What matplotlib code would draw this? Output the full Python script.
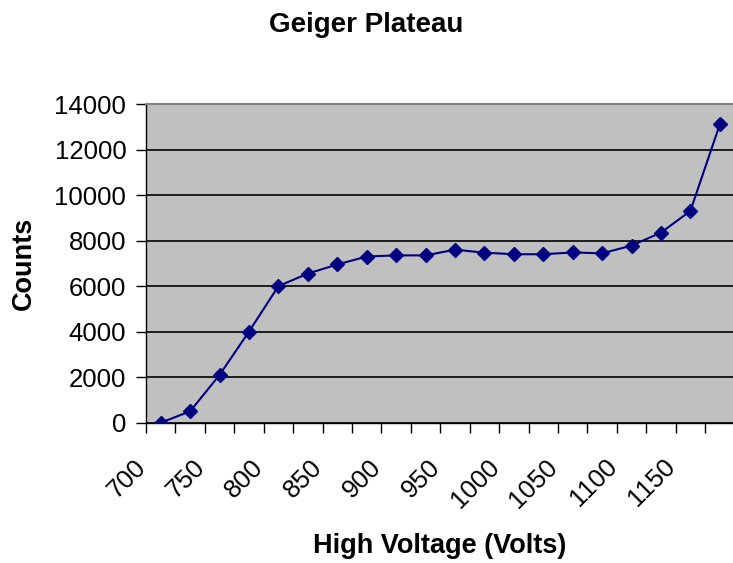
import numpy as np
import matplotlib
matplotlib.use("Agg")
import matplotlib.pyplot as plt
from matplotlib.transforms import ScaledTranslation

# data
voltages = [700, 725, 750, 775, 800, 825, 850, 875, 900, 925,
            950, 975, 1000, 1025, 1050, 1075, 1100, 1125, 1150, 1175]
counts = [0, 500, 2100, 4000, 6000, 6550, 6950, 7300, 7350, 7350,
          7600, 7470, 7400, 7400, 7480, 7440, 7780, 8350, 9300, 13100]
y_ticks = [0, 2000, 4000, 6000, 8000, 10000, 12000, 14000]

plt.rcParams['font.family'] = ['Liberation Sans', 'DejaVu Sans']

W, H = 733, 563
fig = plt.figure(figsize=(W / 100, H / 100), dpi=100)
# plot area in pixels (left, top, right, bottom)
L, T, R, B = 146, 104, 734.5, 422.7
ax = fig.add_axes([L / W, 1 - B / H, (R - L) / W, (B - T) / H])
ax.set_facecolor("#C0C0C0")

x = np.arange(len(voltages))
ax.plot(x, counts, color="#000080", lw=1.5, marker="D", ms=7.5,
        mfc="#000080", mec="#000080", zorder=3)

ax.set_xlim(-0.5, len(voltages) - 0.5)
ax.set_ylim(0, 14000)

# grid
ax.set_yticks(y_ticks)
ax.set_yticklabels([str(v) for v in y_ticks], fontsize=18.5)
ax.yaxis.grid(True, color="black", lw=1.2)
ax.set_axisbelow(True)
ax.tick_params(axis="y", direction="out", length=7.2, width=1.0, pad=7)

# category axis: ticks between categories, labels every second one
ax.set_xticks(x[::2])
ax.set_xticklabels([str(v) for v in voltages[::2]], fontsize=18.5,
                   rotation=45, ha="right", va="top", rotation_mode="anchor")
ax.set_xticks(np.arange(-0.5, len(voltages), 1), minor=True)
ax.tick_params(axis="x", which="major", length=0, pad=23)
ax.tick_params(axis="x", which="minor", direction="out", length=7.2, width=1.0)
shift = ScaledTranslation(-27 / 100, 0, fig.dpi_scale_trans)
for lab in ax.get_xticklabels():
    lab.set_transform(lab.get_transform() + shift)

for side in ("left", "bottom"):
    ax.spines[side].set_color("black")
    ax.spines[side].set_linewidth(1.0)
ax.spines["top"].set_color("#808080")
ax.spines["top"].set_linewidth(1.5)
ax.spines["right"].set_visible(False)

fig.text(366 / W, 1 - 31.7 / H, "Geiger Plateau", fontsize=20,
         fontweight="bold", ha="center", va="baseline")
fig.text(440 / W, 1 - 552.7 / H, "High Voltage (Volts)", fontsize=19.5,
         fontweight="bold", ha="center", va="baseline")
fig.text(31 / W, 1 - 263.5 / H, "Counts", fontsize=19.5, fontweight="bold",
         ha="center", va="baseline", rotation=90, rotation_mode="anchor")

fig.savefig("out.png", dpi=100)
